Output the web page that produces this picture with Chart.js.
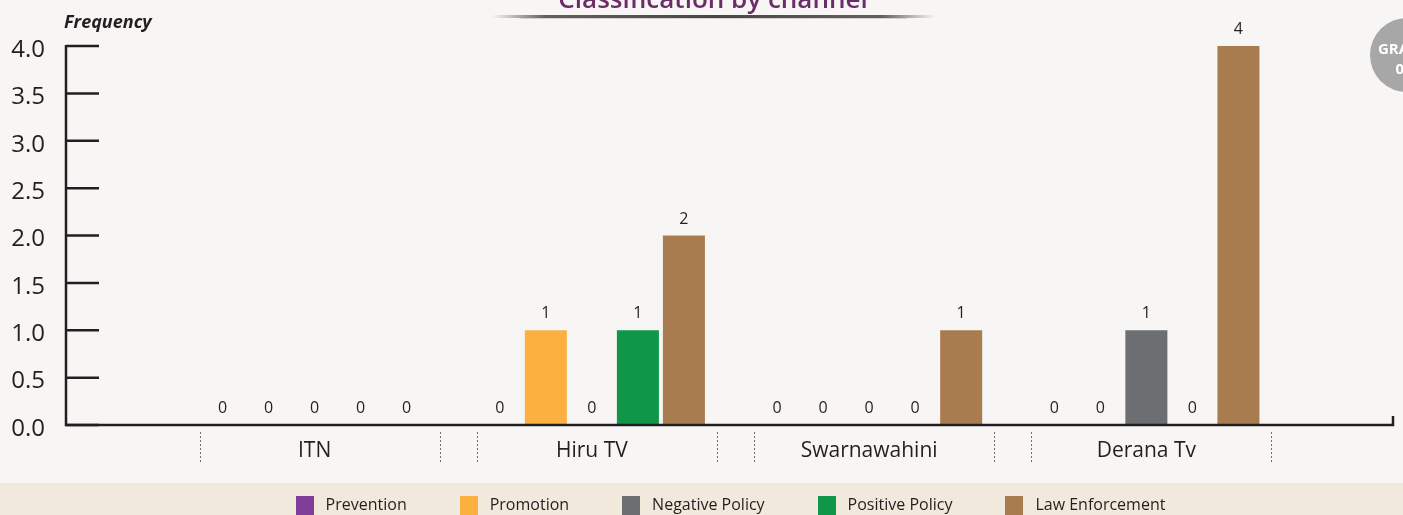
<!DOCTYPE html>
<html>
<head>
  <meta charset="utf-8">
  <title>Classification by channel</title>
  <script src="https://cdn.jsdelivr.net/npm/chart.js"></script>
  <style>
    html, body {
      margin: 0;
      padding: 0;
      background: #f7f6f4;
      overflow: hidden;
    }
  </style>
</head>
<body>
  <canvas id="channelChart" width="1403" height="515"></canvas>

  <script>
    // data
    const channels = ['ITN', 'Hiru TV', 'Swarnawahini', 'Derana Tv'];
    const seriesNames = ['Prevention', 'Promotion', 'Negative Policy', 'Positive Policy', 'Law Enforcement'];
    const prevention = [0, 0, 0, 0];
    const promotion = [0, 1, 0, 0];
    const negativePolicy = [0, 0, 0, 1];
    const positivePolicy = [0, 1, 0, 0];
    const lawEnforcement = [0, 2, 1, 4];
    const yTickLabels = ['0.0', '0.5', '1.0', '1.5', '2.0', '2.5', '3.0', '3.5', '4.0'];

    const seriesColors = ['#7f3f98', '#fbb040', '#6d6e71', '#0f9648', '#a97c50'];
    const textColor = '#231f20';
    const fontFamily = "'Open Sans', sans-serif";

    Chart.defaults.font.family = fontFamily;
    Chart.defaults.color = textColor;

    // everything that is not a bar: axes, labels, title, badge, legend
    const decorations = {
      id: 'decorations',
      beforeDraw(chart) {
        const ctx = chart.ctx;
        ctx.save();
        ctx.fillStyle = '#f7f6f4';
        ctx.fillRect(0, 0, chart.width, chart.height);
        ctx.fillStyle = '#f1e9dc';
        ctx.fillRect(0, 483, chart.width, chart.height - 483);
        ctx.restore();
      },
      afterDatasetsDraw(chart) {
        const ctx = chart.ctx;
        const x = chart.scales.x;
        const y = chart.scales.y;
        const axisLeft = 66;
        const axisRight = 1393;
        const base = y.getPixelForValue(0);

        ctx.save();

        // value labels above each bar
        ctx.font = '16px ' + fontFamily;
        ctx.fillStyle = textColor;
        ctx.textAlign = 'center';
        ctx.textBaseline = 'alphabetic';
        chart.data.datasets.forEach((ds, i) => {
          chart.getDatasetMeta(i).data.forEach((bar, j) => {
            ctx.fillText(String(ds.data[j]), bar.x, bar.y - 12);
          });
        });

        // axes
        ctx.strokeStyle = textColor;
        ctx.lineWidth = 2.5;
        ctx.beginPath();
        ctx.moveTo(axisLeft, y.getPixelForValue(4) - 1);
        ctx.lineTo(axisLeft, base);
        ctx.lineTo(axisRight, base);
        ctx.lineTo(axisRight, base - 9);
        ctx.stroke();

        // y ticks and their labels
        ctx.font = '24px ' + fontFamily;
        ctx.textAlign = 'right';
        ctx.textBaseline = 'middle';
        yTickLabels.forEach(label => {
          const py = y.getPixelForValue(parseFloat(label));
          ctx.beginPath();
          ctx.moveTo(axisLeft, py);
          ctx.lineTo(axisLeft + 33, py);
          ctx.stroke();
          ctx.fillText(label, 45, py + 4);
        });

        // dotted separators under each channel
        ctx.strokeStyle = '#6d6e71';
        ctx.lineWidth = 1;
        ctx.setLineDash([2, 2]);
        channels.forEach((c, j) => {
          const cx = x.getPixelForValue(j);
          [cx - 115, cx + 125].forEach(sx => {
            ctx.beginPath();
            ctx.moveTo(Math.round(sx) + 0.5, 432);
            ctx.lineTo(Math.round(sx) + 0.5, 463);
            ctx.stroke();
          });
        });
        ctx.setLineDash([]);

        // axis title
        ctx.font = 'italic bold 18px ' + fontFamily;
        ctx.textAlign = 'left';
        ctx.textBaseline = 'alphabetic';
        ctx.fillText('Frequency', 64, 28);

        // chart title, cut off at the top
        ctx.font = '600 26px ' + fontFamily;
        ctx.fillStyle = '#6b2c69';
        ctx.textAlign = 'center';
        ctx.fillText('Classification by channel', 713, 8);

        const grad = ctx.createLinearGradient(492, 0, 935, 0);
        grad.addColorStop(0, 'rgba(80,80,80,0)');
        grad.addColorStop(0.12, 'rgba(80,80,80,0.9)');
        grad.addColorStop(0.5, 'rgba(70,70,70,1)');
        grad.addColorStop(0.88, 'rgba(80,80,80,0.9)');
        grad.addColorStop(1, 'rgba(80,80,80,0)');
        ctx.fillStyle = grad;
        ctx.fillRect(492, 15, 443, 3);
        ctx.fillStyle = 'rgba(150,150,150,0.35)';
        ctx.fillRect(520, 18, 387, 1);

        // page badge on the right edge
        ctx.fillStyle = '#a7a7a8';
        ctx.beginPath();
        ctx.arc(1407, 55, 37, 0, Math.PI * 2);
        ctx.fill();
        ctx.fillStyle = '#ffffff';
        ctx.font = 'bold 15px ' + fontFamily;
        ctx.textBaseline = 'middle';
        ctx.fillText('GRAPH', 1404, 50);
        ctx.fillText('05', 1404, 70);

        // legend in the bottom band
        ctx.font = '16px ' + fontFamily;
        const box = 18;
        const gap = 53;
        const widths = seriesNames.map(n => box + 12 + ctx.measureText(n).width);
        const total = widths.reduce((a, b) => a + b, 0) + gap * (widths.length - 1);
        let lx = (chart.chartArea.left + chart.chartArea.right) / 2 - total / 2;
        ctx.textAlign = 'left';
        seriesNames.forEach((name, i) => {
          ctx.fillStyle = seriesColors[i];
          ctx.fillRect(Math.round(lx), 496, box, box + 2);
          ctx.fillStyle = textColor;
          ctx.fillText(name, lx + box + 12, 505);
          lx += widths[i] + gap;
        });

        ctx.restore();
      }
    };

    const seriesValues = [prevention, promotion, negativePolicy, positivePolicy, lawEnforcement];

    new Chart(document.getElementById('channelChart'), {
      type: 'bar',
      data: {
        labels: channels,
        datasets: seriesNames.map((name, i) => ({
          label: name,
          data: seriesValues[i],
          backgroundColor: seriesColors[i],
          borderWidth: 0,
          barPercentage: 0.913,
          categoryPercentage: 0.83
        }))
      },
      options: {
        responsive: false,
        devicePixelRatio: 1,
        animation: false,
        layout: {
          padding: { left: 176, right: 118, top: 46, bottom: 50 }
        },
        plugins: {
          legend: { display: false },
          tooltip: { enabled: false }
        },
        scales: {
          x: {
            grid: { display: false, drawTicks: false },
            border: { display: false },
            ticks: {
              padding: 13,
              font: { size: 21 },
              color: textColor
            },
            afterFit(scale) {
              scale.height = 40;
            }
          },
          y: {
            display: false,
            min: 0,
            max: 4,
            ticks: { stepSize: 0.5 }
          }
        }
      },
      plugins: [decorations]
    });
  </script>
</body>
</html>
